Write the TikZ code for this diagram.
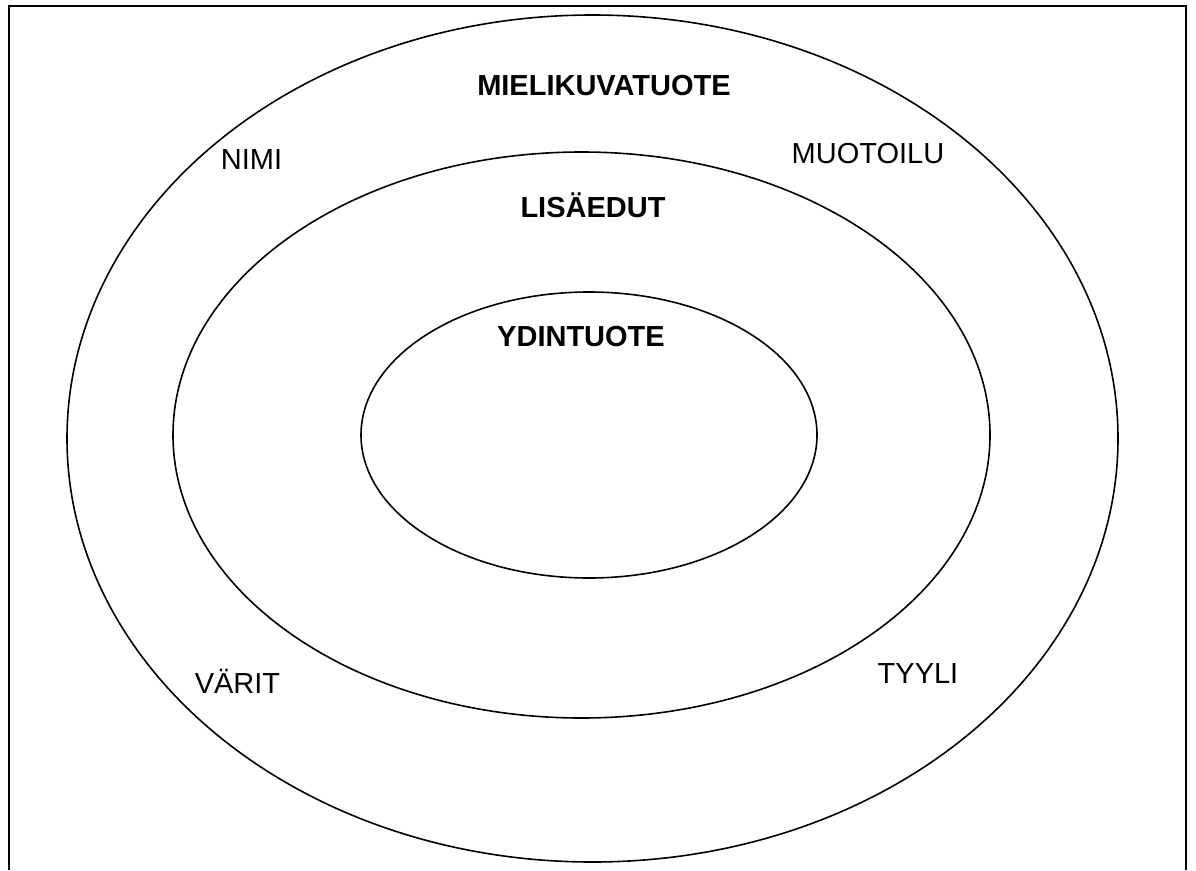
\documentclass[tikz,border=0pt]{standalone}
\usepackage{fontspec}
\setmainfont{Liberation Sans}
\usetikzlibrary{shapes.geometric}
\begin{document}
\begin{tikzpicture}[x=1pt,y=-1pt,
 ring/.style={draw,ellipse,line width=1.6pt,inner sep=0pt,outer sep=0pt},
 lab/.style={anchor=base,inner sep=0pt,font=\fontsize{29}{33}\selectfont},
 head/.style={lab,font=\fontsize{29}{33}\selectfont\bfseries}]
\useasboundingbox (0,0) rectangle (1196,870);
\draw[line width=2pt] (8.5,870) -- (8.5,5.5) -- (1186,5.5) -- (1186,870);
% rings
\node[ring,minimum width=1051,minimum height=847] (outer) at (592.5,438.5) {};
\node[ring,minimum width=817,minimum height=566] (middle) at (581.5,435) {};
\node[ring,minimum width=456,minimum height=286] (inner) at (589,435) {};
% titles
\node[head] (image) at (604,95) {MIELIKUVATUOTE};
\node[head] (extra) at (593,217) {LISÄEDUT};
\node[head] (core) at (581,346) {YDINTUOTE};
% features
\node[lab] (name) at (251.5,169) {NIMI};
\node[lab] (design) at (868,163) {MUOTOILU};
\node[lab] (colours) at (237.5,693) {VÄRIT};
\node[lab] (style) at (918,683) {TYYLI};
\end{tikzpicture}
\end{document}
